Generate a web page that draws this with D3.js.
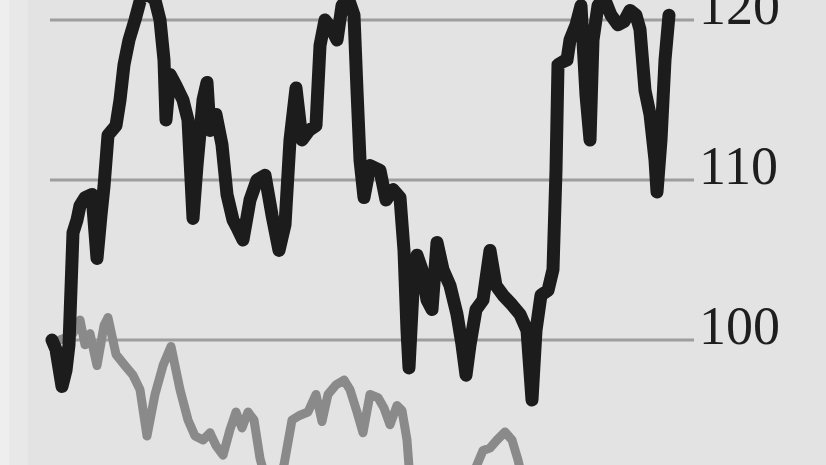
<!DOCTYPE html>
<html>
<head>
<meta charset="utf-8">
<script src="https://cdn.jsdelivr.net/npm/d3@7"></script>
<style>
html,body{margin:0;padding:0;background:#e3e3e3;overflow:hidden;}
svg{display:block;}
</style>
</head>
<body>
<svg id="chart" width="826" height="465"></svg>
<script>
// Tick labels on the right axis
const tickValues = [100, 110, 120];
const tickLabels = ["100", "110", "120"];

// Main index (black), [day, value]
const indexSeries = [
[0,100.0],[2,99.4],[5,97.1],[7,98.1],[8.5,99.7],[10.5,106.7],[12.5,107.5],[14,108.4],[16.5,108.9],[20,109.1],
[22.5,105.1],[24.5,107.8],[26,109.6],[28,112.8],[32,113.4],[34,115.0],[36,117.2],[38.5,118.75],[41.5,120.0],[44.5,121.4],
[48,121.6],[51.5,121.25],[54,120.0],[56,117.5],[57,113.75],[59,116.6],[62,115.9],[65.5,115.0],[68,113.75],[70.5,107.6],
[72.5,110.9],[75.5,115.0],[77.5,116.1],[79,113.1],[82,114.1],[85,112.2],[87.5,109.1],[90.5,107.5],[93,106.9],[95.5,106.25],
[99,108.75],[102.5,110.0],[106.5,110.3],[110,107.8],[113.5,105.6],[116.5,107.2],[119,112.5],[122,115.75],[125,112.5],[128.5,113.1],
[132,113.4],[134,118.4],[136.5,120.0],[140,119.4],[142.5,118.75],[145,120.9],[148,121.4],[151,120.3],[152.5,115.6],[154,111.25],
[156,108.9],[159,110.9],[164,110.6],[167,108.75],[170.5,109.4],[174,108.9],[176,105.6],[177.5,100.6],[178.5,98.25],[180.5,103.1],
[182.5,105.3],[185,104.4],[187.5,102.5],[190,101.9],[192.5,106.1],[195.5,104.4],[199,103.4],[202.5,101.6],[205,99.7],[207,97.8],
[209,99.7],[212,101.9],[215.5,102.5],[219,105.6],[222,103.4],[225.5,102.8],[230,102.2],[234,101.6],[237.5,100.6],[240,96.25],
[242,100.6],[244.5,102.8],[248,103.1],[250.5,104.4],[252,110.6],[253,117.2],[255.5,117.4],[257.5,117.5],[259,118.75],[262,119.7],
[264.5,120.9],[267,115.3],[269,112.5],[270.5,118.75],[273,120.9],[276,121.4],[279.5,120.3],[283,119.7],[286,119.9],[289,120.6],
[292,120.3],[294,119.4],[296.5,115.6],[299,114.1],[301.5,111.25],[302.5,109.25],[304.5,112.5],[306.5,117.5],[308.5,120.3]
];

// Comparison index (grey), [day, value]
const compareSeries = [
[4,100.0],[10,100.3],[14,101.25],[16.5,99.7],[19,100.4],[22.5,98.4],[26,100.9],[28,101.4],[32,99.1],[36.5,98.4],
[40.5,97.8],[44,96.9],[47.5,94.0],[51.5,96.6],[55.5,98.4],[59.5,99.6],[64,96.9],[68,95.0],[71.5,94.0],[75.5,93.75],
[79,94.2],[82,93.4],[85.5,92.8],[89,94.4],[92,95.5],[95,94.5],[98,95.5],[101,95.0],[104,92.6],[107,91.25],
[112,90.9],[116,92.2],[120,95.0],[124,95.3],[128,95.5],[132,96.6],[135,94.9],[138,96.6],[142,97.2],[146,97.5],
[149,96.9],[152.5,95.5],[155.5,94.2],[159,96.6],[163,96.4],[166,95.75],[169,94.7],[172.5,95.9],[175,95.6],[177.5,93.75],
[179,91.25],[184,90.0],[194,90.3],[204,90.6],[211.5,91.9],[215.5,93.1],[219,93.25],[222.5,93.75],[226.5,94.25],[230,93.75],
[233,92.5],[236.5,90.6],[246.5,90.0],[259,89.8],[274,89.5],[294,89.5],[309,89.7]
];

const svg = d3.select("#chart");
const W = 826, H = 465;

const x = d3.scaleLinear().domain([0, 310]).range([52, 672]);
const y = d3.scaleLinear().domain([90, 120]).range([500, 20]);

// background & left strips
svg.append("rect").attr("width", W).attr("height", H).attr("fill", "#e3e3e3");
svg.append("rect").attr("x", 0).attr("y", 0).attr("width", 28).attr("height", H).attr("fill", "#e8e8e8");
svg.append("rect").attr("x", 0).attr("y", 0).attr("width", 9).attr("height", H).attr("fill", "#eeeeee");

// grid lines
svg.append("g").selectAll("line").data(tickValues).join("line")
  .attr("x1", 50).attr("x2", 694)
  .attr("y1", d => y(d)).attr("y2", d => y(d))
  .attr("stroke", "#9e9e9e").attr("stroke-width", 3);

// right axis labels
const axis = d3.axisRight(y).tickValues(tickValues).tickFormat((d, i) => tickLabels[i]).tickSize(0).tickPadding(0);
const ag = svg.append("g").attr("transform", "translate(699,0)").call(axis);
ag.select(".domain").remove();
ag.selectAll("text")
  .attr("font-family", "'Liberation Serif', 'DejaVu Serif', serif")
  .attr("font-size", 54)
  .attr("fill", "#1e1e1e")
  .attr("dy", null)
  .attr("y", 3)
  .attr("dominant-baseline", "auto");

const line = d3.line().x(d => x(d[0])).y(d => y(d[1])).curve(d3.curveLinear);

svg.append("path").datum(compareSeries)
  .attr("d", line).attr("fill", "none")
  .attr("stroke", "#8a8a8a").attr("stroke-width", 9)
  .attr("stroke-linejoin", "round").attr("stroke-linecap", "round");

svg.append("path").datum(indexSeries)
  .attr("d", line).attr("fill", "none")
  .attr("stroke", "#1c1c1c").attr("stroke-width", 13)
  .attr("stroke-linejoin", "round").attr("stroke-linecap", "round");
</script>
</body>
</html>
